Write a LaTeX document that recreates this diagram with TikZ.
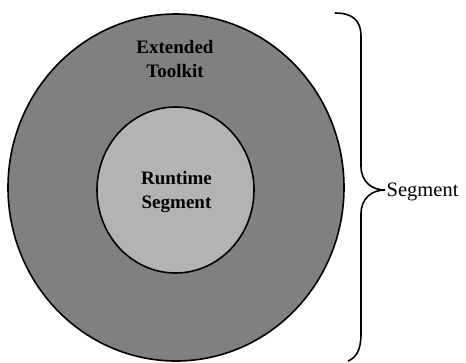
\documentclass[tikz,border=0pt]{standalone}
\usepackage{fontspec}
\setmainfont{Liberation Serif}
\usetikzlibrary{shapes.geometric}
\definecolor{outergray}{RGB}{128,128,128}
\definecolor{innergray}{RGB}{179,179,179}
\tikzset{
  ring/.style={ellipse, draw=black, line width=1.6pt, inner sep=0pt},
  boldlabel/.style={align=center, font=\fontsize{19}{23.5}\selectfont\bfseries, inner sep=0pt},
  bracelabel/.style={anchor=west, font=\fontsize{20.5}{24}\selectfont, inner sep=0pt},
  bracepath/.style={draw=black, line width=1.6pt}
}
\begin{document}
\begin{tikzpicture}[x=1pt,y=-1pt]
\useasboundingbox (0,0) rectangle (466,362);
\node[ring, fill=outergray, minimum width=336pt, minimum height=347pt] (outer) at (176,187.5) {};
\node[ring, fill=innergray, minimum width=157pt, minimum height=166pt] (inner) at (175.5,190) {};
\node[boldlabel] (ext) at (175,59) {Extended\\Toolkit};
\node[boldlabel] (rt) at (176.5,192) {Runtime\\Segment};
\coordinate (btop) at (335,13);
\coordinate (btip) at (385,190);
\coordinate (bbot) at (348,361);
\node[bracelabel] (seg) at (386.5,192) {Segment};
\draw[bracepath] (btop) .. controls (352,13) and (361,20) .. (361,36)
  -- (361,166) .. controls (361,182) and (372,190) .. (btip)
  .. controls (372,190) and (361,198) .. (361,214)
  -- (361,334) .. controls (361,350) and (356,358) .. (bbot);
\end{tikzpicture}
\end{document}
